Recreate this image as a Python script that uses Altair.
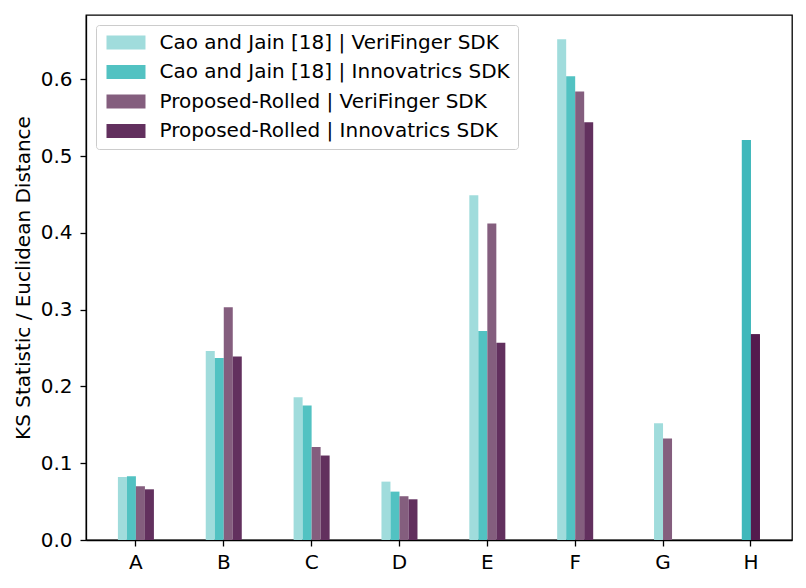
import altair as alt
import pandas as pd

categories = ["A", "B", "C", "D", "E", "F", "G", "H"]
series = [
    "Cao and Jain [18] | VeriFinger SDK",
    "Cao and Jain [18] | Innovatrics SDK",
    "Proposed-Rolled | VeriFinger SDK",
    "Proposed-Rolled | Innovatrics SDK",
]
cao_verifinger = [0.082, 0.246, 0.186, 0.076, 0.449, 0.652, 0.152, None]
cao_innovatrics = [0.083, 0.237, 0.175, 0.063, 0.272, 0.604, None, 0.521]
prop_verifinger = [0.070, 0.303, 0.121, 0.057, 0.412, 0.584, 0.132, None]
prop_innovatrics = [0.066, 0.239, 0.110, 0.053, 0.257, 0.544, None, 0.268]
series_colors = ["#a0dcdc", "#52c2c2", "#845e7e", "#62305e"]
h_colors = ["#a0dcdc", "#3fb8bb", "#845e7e", "#541b4e"]
y_ticks = [0.0, 0.1, 0.2, 0.3, 0.4, 0.5, 0.6]

values = [cao_verifinger, cao_innovatrics, prop_verifinger, prop_innovatrics]
rows = []
for ci, cat in enumerate(categories):
    present = [si for si in range(len(series)) if values[si][ci] is not None]
    shift = (len(series) - len(present)) // 2
    for k, si in enumerate(present):
        rows.append({
            "category": cat,
            "series": series[si],
            "value": values[si][ci],
            "slot": k + shift,
            "fill": h_colors[si] if cat == "H" else series_colors[si],
        })
df = pd.DataFrame(rows)

FONT = "DejaVu Sans"

x_enc = alt.X(
    "category:N",
    sort=categories,
    scale=alt.Scale(paddingInner=0.59, paddingOuter=0.313, align=0.58),
    axis=alt.Axis(title=None, labelAngle=0, labelFontSize=20, labelFont=FONT,
                  labelColor="black", tickColor="black", domainColor="black",
                  tickSize=6, labelPadding=6, grid=False),
)
xo_enc = alt.XOffset("slot:O", scale=alt.Scale(domain=[0, 1, 2, 3], paddingInner=0, paddingOuter=0))
y_enc = alt.Y(
    "value:Q",
    scale=alt.Scale(domain=[0, 0.6836], nice=False, zero=True),
    axis=alt.Axis(title="KS Statistic / Euclidean Distance", values=y_ticks, format=".1f",
                  labelFontSize=20, labelFont=FONT, labelColor="black",
                  titleFontSize=20, titleFont=FONT, titleFontWeight="normal", titleColor="black",
                  titlePadding=7, tickColor="black", domainColor="black", tickSize=6,
                  labelPadding=8, grid=False),
)

base = alt.Chart(df)

bars = base.mark_bar(strokeWidth=0).encode(
    x=x_enc,
    xOffset=xo_enc,
    y=y_enc,
    color=alt.Color(
        "series:N",
        scale=alt.Scale(domain=series, range=series_colors),
        legend=alt.Legend(
            title=None, orient="top-left", offset=10,
            labelFontSize=20, labelFont=FONT, labelColor="black", labelLimit=0,
            symbolType="M-1,-1L4.571,-1L4.571,1L-1,1Z", symbolSize=196,
            symbolStrokeWidth=0, symbolOpacity=1, labelOffset=36,
            rowPadding=9.5, padding=7.5, fillColor="white",
            strokeColor="#cccccc", cornerRadius=3,
        ),
    ),
)

h_overlay = base.transform_filter(alt.datum.category == "H").mark_bar(strokeWidth=0).encode(
    x=alt.X("category:N", sort=categories),
    xOffset=alt.XOffset("slot:O"),
    y=alt.Y("value:Q"),
    fill=alt.Fill("fill:N", scale=None),
)

chart = alt.layer(bars, h_overlay).properties(
    width=706, height=525,
    padding={"left": 5, "top": 7, "right": 5, "bottom": 5},
).configure_view(
    stroke="black", strokeWidth=1.3,
).configure_axis(
    domainWidth=1.3, tickWidth=1.3,
)

chart.save("out.html", embed_options={"renderer": "svg", "actions": False})
